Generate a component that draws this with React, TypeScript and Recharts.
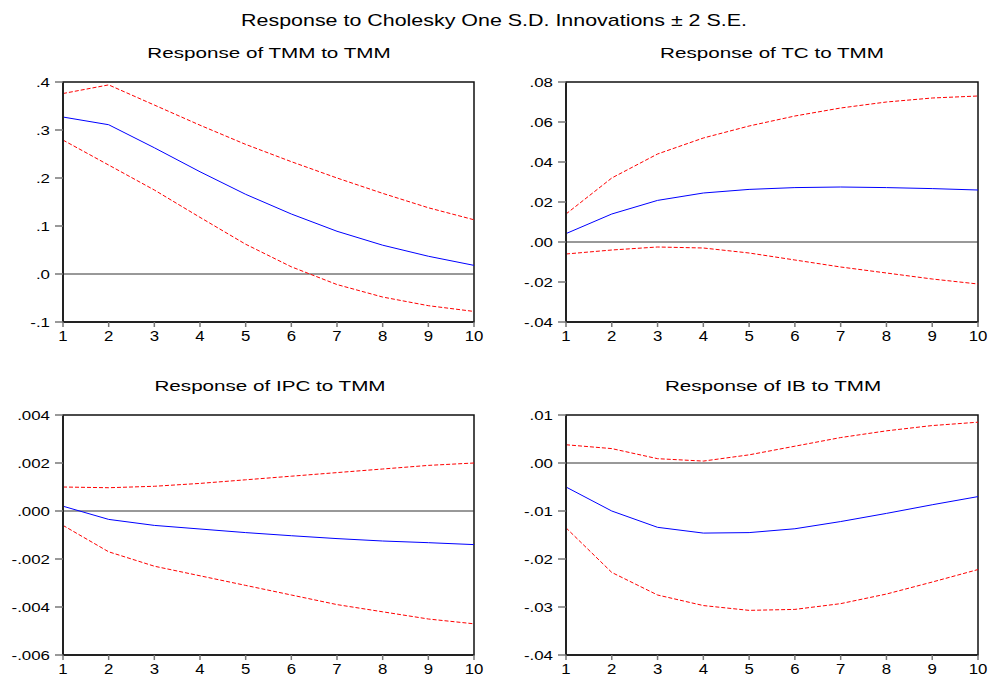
import React from 'react';
import { LineChart, Line, XAxis, YAxis, ReferenceLine, ReferenceArea } from 'recharts';

const FONT = "Arial, 'Liberation Sans', sans-serif";

const steps = [1, 2, 3, 4, 5, 6, 7, 8, 9, 10];

// Response of TMM to TMM
const tmmResp = [0.327, 0.311, 0.263, 0.213, 0.166, 0.125, 0.089, 0.06, 0.037, 0.018];
const tmmUpper = [0.376, 0.394, 0.352, 0.31, 0.27, 0.234, 0.2, 0.168, 0.138, 0.113];
const tmmLower = [0.279, 0.227, 0.175, 0.118, 0.062, 0.015, -0.022, -0.048, -0.066, -0.078];

// Response of TC to TMM
const tcResp = [0.0042, 0.014, 0.0208, 0.0245, 0.0263, 0.0272, 0.0275, 0.0272, 0.0267, 0.026];
const tcUpper = [0.014, 0.032, 0.044, 0.052, 0.058, 0.063, 0.067, 0.07, 0.072, 0.073];
const tcLower = [-0.006, -0.004, -0.0025, -0.003, -0.0055, -0.009, -0.0125, -0.0155, -0.0185, -0.021];

// Response of IPC to TMM
const ipcResp = [0.0002, -0.00035, -0.0006, -0.00075, -0.0009, -0.00103, -0.00115, -0.00125, -0.00132, -0.0014];
const ipcUpper = [0.001, 0.00097, 0.00103, 0.00115, 0.0013, 0.00145, 0.0016, 0.00175, 0.0019, 0.002];
const ipcLower = [-0.0006, -0.0017, -0.0023, -0.0027, -0.0031, -0.0035, -0.0039, -0.0042, -0.0045, -0.0047];

// Response of IB to TMM
const ibResp = [-0.005, -0.01, -0.0134, -0.0146, -0.0145, -0.0137, -0.0122, -0.0105, -0.0087, -0.007];
const ibUpper = [0.0038, 0.003, 0.0009, 0.0004, 0.0017, 0.0035, 0.0053, 0.0067, 0.0078, 0.0085];
const ibLower = [-0.0135, -0.0228, -0.0275, -0.0297, -0.0307, -0.0305, -0.0293, -0.0273, -0.0248, -0.0222];

// Y ticks and labels
const tmmTicks = [-0.1, 0, 0.1, 0.2, 0.3, 0.4];
const tmmLabels = ['-.1', '.0', '.1', '.2', '.3', '.4'];
const tcTicks = [-0.04, -0.02, 0, 0.02, 0.04, 0.06, 0.08];
const tcLabels = ['-.04', '-.02', '.00', '.02', '.04', '.06', '.08'];
const ipcTicks = [-0.006, -0.004, -0.002, 0, 0.002, 0.004];
const ipcLabels = ['-.006', '-.004', '-.002', '.000', '.002', '.004'];
const ibTicks = [-0.04, -0.03, -0.02, -0.01, 0, 0.01];
const ibLabels = ['-.04', '-.03', '-.02', '-.01', '.00', '.01'];

const mainTitle = 'Response to Cholesky One S.D. Innovations \u00b1 2 S.E.';

function buildData(resp: number[], upper: number[], lower: number[]) {
  return steps.map((s, i) => ({ x: s, resp: resp[i], upper: upper[i], lower: lower[i] }));
}

const makeYTick = (ticks: number[], labels: string[]) => (props: any) => {
  const { x, y, payload } = props;
  let idx = 0;
  let best = Infinity;
  ticks.forEach((t, i) => {
    const d = Math.abs(t - payload.value);
    if (d < best) { best = d; idx = i; }
  });
  return (
    <text
      transform={`translate(${x},${y + 4.5}) scale(1.35,1)`}
      textAnchor="end"
      fontFamily={FONT}
      fontSize={12.5}
      fill="#000"
    >
      {labels[idx]}
    </text>
  );
};

const XTick = (props: any) => {
  const { x, y, payload } = props;
  return (
    <text
      transform={`translate(${x},${y + 11.5}) scale(1.12,1)`}
      textAnchor="middle"
      fontFamily={FONT}
      fontSize={15}
      fill="#000"
    >
      {payload.value}
    </text>
  );
};

type PanelProps = {
  left: number;
  top: number;
  width: number;
  yWidth: number;
  rightMargin: number;
  resp: number[];
  upper: number[];
  lower: number[];
  ticks: number[];
  labels: string[];
};

function Panel(p: PanelProps) {
  const data = buildData(p.resp, p.upper, p.lower);
  const yMin = p.ticks[0];
  const yMax = p.ticks[p.ticks.length - 1];
  return (
    <div style={{ position: 'absolute', left: p.left, top: p.top }}>
      <LineChart
        width={p.width}
        height={342}
        data={data}
        margin={{ top: 82, right: p.rightMargin, bottom: 0, left: 0 }}
      >
        <ReferenceArea
          x1={1}
          x2={10}
          y1={yMin}
          y2={yMax}
          fill="none"
          stroke="#111"
          strokeWidth={1.5}
          ifOverflow="visible"
        />
        <ReferenceLine y={0} stroke="#333" strokeWidth={1} />
        <XAxis
          dataKey="x"
          type="number"
          domain={[1, 10]}
          ticks={steps}
          height={20}
          tickSize={5}
          tickMargin={2}
          tick={<XTick />}
          axisLine={{ stroke: '#222', strokeWidth: 2 }}
          tickLine={{ stroke: '#777', strokeWidth: 1.5 }}
          interval={0}
          allowDecimals={false}
        />
        <YAxis
          type="number"
          domain={[yMin, yMax]}
          ticks={p.ticks}
          width={p.yWidth}
          tickSize={8}
          tickMargin={5}
          tick={makeYTick(p.ticks, p.labels)}
          axisLine={{ stroke: '#222', strokeWidth: 2 }}
          tickLine={{ stroke: '#777', strokeWidth: 1.5 }}
          interval={0}
        />
        <Line
          dataKey="upper"
          type="linear"
          stroke="#ff0000"
          strokeWidth={1}
          strokeDasharray="4 2"
          dot={false}
          isAnimationActive={false}
        />
        <Line
          dataKey="lower"
          type="linear"
          stroke="#ff0000"
          strokeWidth={1}
          strokeDasharray="4 2"
          dot={false}
          isAnimationActive={false}
        />
        <Line
          dataKey="resp"
          type="linear"
          stroke="#0000ff"
          strokeWidth={1}
          dot={false}
          isAnimationActive={false}
        />
      </LineChart>
    </div>
  );
}

function Title(props: { text: string; cx: number; cy: number; size: number; sx: number }) {
  return (
    <div
      style={{
        position: 'absolute',
        left: props.cx,
        top: props.cy,
        transform: `translate(-50%, -50%) scaleX(${props.sx})`,
        fontFamily: FONT,
        fontSize: props.size,
        lineHeight: 1,
        whiteSpace: 'nowrap',
        color: '#000',
      }}
    >
      {props.text}
    </div>
  );
}

export default function App() {
  return (
    <div
      style={{
        position: 'absolute',
        left: 0,
        top: 0,
        width: 989,
        height: 676,
        background: '#fff',
      }}
    >
      <Title text={mainTitle} cx={494} cy={20} size={17} sx={1.26} />
      <Title text="Response of TMM to TMM" cx={269} cy={53} size={15.5} sx={1.33} />
      <Title text="Response of TC to TMM" cx={772} cy={53} size={15.5} sx={1.33} />
      <Title text="Response of IPC to TMM" cx={270} cy={386} size={15.5} sx={1.33} />
      <Title text="Response of IB to TMM" cx={773} cy={386} size={15.5} sx={1.33} />

      <Panel left={0} top={0} width={494} yWidth={63} rightMargin={20}
        resp={tmmResp} upper={tmmUpper} lower={tmmLower} ticks={tmmTicks} labels={tmmLabels} />
      <Panel left={506} top={0} width={482} yWidth={60} rightMargin={10}
        resp={tcResp} upper={tcUpper} lower={tcLower} ticks={tcTicks} labels={tcLabels} />
      <Panel left={0} top={333} width={494} yWidth={63} rightMargin={20}
        resp={ipcResp} upper={ipcUpper} lower={ipcLower} ticks={ipcTicks} labels={ipcLabels} />
      <Panel left={506} top={333} width={482} yWidth={60} rightMargin={10}
        resp={ibResp} upper={ibUpper} lower={ibLower} ticks={ibTicks} labels={ibLabels} />
    </div>
  );
}
